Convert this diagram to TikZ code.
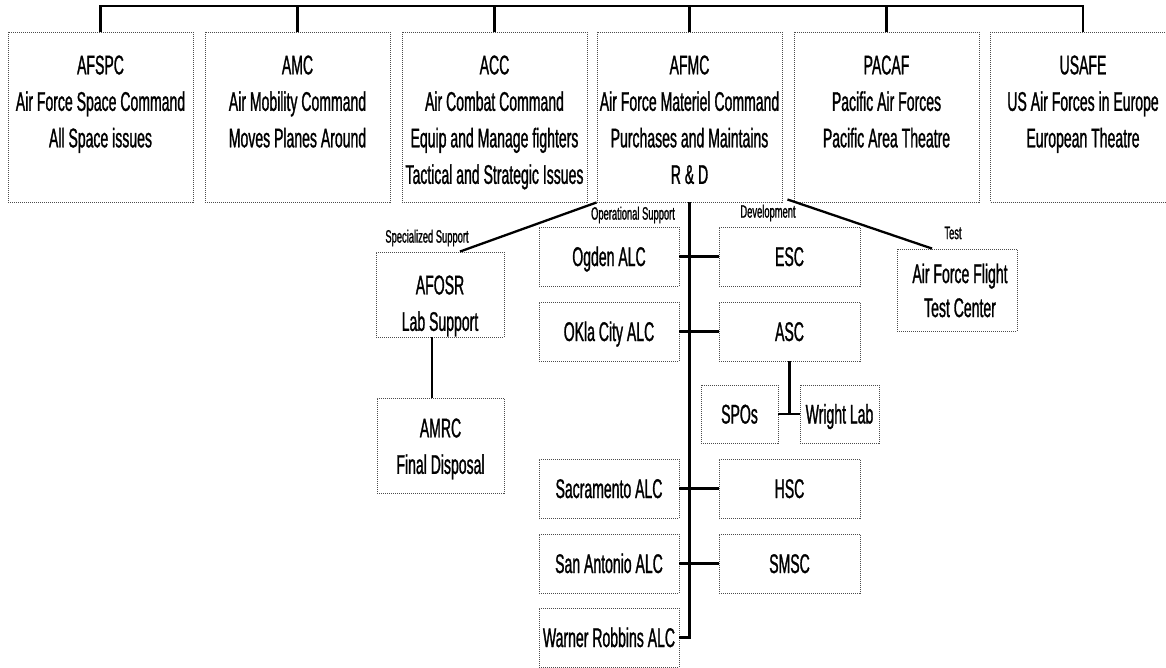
\documentclass[tikz,border=0pt]{standalone}
\usepackage{fontspec}
\setmainfont{Liberation Sans}[FakeStretch=0.52, FakeBold=1]
\usetikzlibrary{calc}
\newcommand\bigfont{\fontsize{27}{36.5}\selectfont}
\newcommand\lblfont{\fontsize{18}{20}\selectfont}
\begin{document}
\begin{tikzpicture}[x=1pt,y=-1pt,
  box/.style={draw=black!70, dash pattern=on 1pt off 1pt, line width=0.9pt, rectangle, inner sep=0pt},
  topbox/.style={box, minimum width=185pt, minimum height=170pt},
  txt/.style={align=center, inner sep=0pt, anchor=north, font=\bigfont},
  one/.style={box, minimum width=140pt, minimum height=59pt, font=\bigfont, text height=19pt, text depth=0pt},
  link/.style={line width=2.3pt, black},
  lbl/.style={font=\lblfont, inner sep=0pt}]
\useasboundingbox (0,0) rectangle (1166,668);

% top level boxes
\node[topbox] (afspc) at (100.5,117) {};
\node[topbox] (amc)   at (297.5,117) {};
\node[topbox] (acc)   at (494.5,117) {};
\node[topbox] (afmc)  at (689.5,117) {};
\node[topbox] (pacaf) at (886.5,117) {};
\node[topbox] (usafe) at (1083,117) {};
\node[txt] (tafspc) at (100.5,55.3) {AFSPC\\Air Force Space Command\\All Space issues};
\node[txt] (tamc)   at (297.5,55.3) {AMC\\Air Mobility Command\\Moves Planes Around};
\node[txt] (tacc)   at (494.5,55.3) {ACC\\Air Combat Command\\Equip and Manage fighters\\Tactical and Strategic Issues};
\node[txt] (tafmc)  at (689.5,55.3) {AFMC\\Air Force Materiel Command\\Purchases and Maintains\\R \& D};
\node[txt] (tpacaf) at (886.5,55.3) {PACAF\\Pacific Air Forces\\Pacific Area Theatre};
\node[txt] (tusafe) at (1083,55.3) {USAFE\\US Air Forces in Europe\\European Theatre};

% top bus
\coordinate (busR) at (1083,6);
\draw[link] (afspc.north) |- (busR) -- (usafe.north);
\foreach \n in {amc,acc,afmc,pacaf} \draw[link] (\n.north) -- (\n.north |- busR);

% specialized support
\node[box, minimum width=128pt, minimum height=85pt] (afosr) at (440,294.5) {};
\node[txt] (tafosr) at (440,275.3) {AFOSR\\Lab Support};
\node[box, minimum width=127pt, minimum height=95pt] (amrc) at (440.5,445.5) {};
\node[txt] (tamrc) at (440.5,418.3) {AMRC\\Final Disposal};

% operational support
\node[one] (ogden)  at (609,256.5) {Ogden ALC};
\node[one] (okla)   at (609,331.5) {OKla City ALC};
\node[one] (sac)    at (609,488.5) {Sacramento ALC};
\node[one] (sanant) at (609,563.5) {San Antonio ALC};
\node[one] (warner) at (609,637.5) {Warner Robbins ALC};

% development
\node[one, minimum width=141pt] (esc)  at (789.5,256.5) {ESC};
\node[one, minimum width=141pt] (asc)  at (789.5,331.5) {ASC};
\node[one, minimum width=141pt] (hsc)  at (789.5,488.5) {HSC};
\node[one, minimum width=141pt] (smsc) at (789.5,563.5) {SMSC};
\node[one, minimum width=77pt, minimum height=58pt] (spos)   at (739.5,414) {SPOs};
\node[one, minimum width=79pt, minimum height=58pt] (wright) at (839.5,414) {Wright Lab};

% test
\node[box, minimum width=120pt, minimum height=82pt] (test) at (957,290) {};
\node[txt, font=\fontsize{27}{34}\selectfont] (ttest) at (960,263.3) {Air Force Flight\\Test Center};

% labels
\node[lbl] (lspec) at (427,238) {Specialized Support};
\node[lbl] (lops)  at (633,215) {Operational Support};
\node[lbl] (ldev)  at (768,213) {Development};
\node[lbl] (ltest) at (953,233) {Test};

% connectors
\draw[link] (afmc.south) -- (afmc.south |- warner.east) -- (warner.east);
\draw[link] (ogden.east) -- (esc.west);
\draw[link] (okla.east) -- (asc.west);
\draw[link] (sac.east) -- (hsc.west);
\draw[link] (sanant.east) -- (smsc.west);
\draw[link] (asc.south) -- (asc.south |- spos.east);
\draw[link] (spos.east) -- (wright.west);
\draw[link] ([xshift=20pt]afosr.north) -- (afmc.south west);
\draw[link] ([xshift=-8pt]afosr.south) -- ([xshift=-8pt]afosr.south |- amrc.north);
\draw[link] ([xshift=5pt, yshift=3pt]afmc.south east) -- ([xshift=-25pt]test.north);
\end{tikzpicture}
\end{document}
